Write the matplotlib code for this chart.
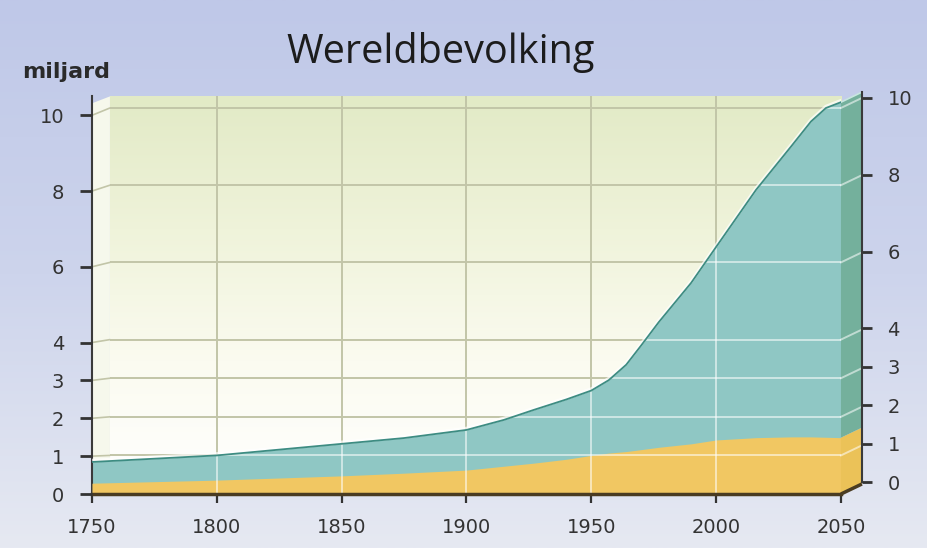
#!/usr/bin/env python

"""
Wereldbevolking, pseudo-3D area chart (1750-2050)
"""

import numpy as np
import matplotlib
matplotlib.use('Agg')
import matplotlib.pyplot as plt
import matplotlib.transforms as mtransforms
from matplotlib.colors import LinearSegmentedColormap
from matplotlib.patches import Polygon, ConnectionPatch

# values (miljard)
years = [1750, 1800, 1850, 1875, 1900, 1915, 1927, 1940, 1950, 1957,
         1964, 1970, 1977, 1990, 2000, 2016, 2030, 2038, 2044, 2050]
total = [0.83, 1.0, 1.3, 1.45, 1.66, 1.92, 2.18, 2.45, 2.68, 2.95,
         3.35, 3.85, 4.45, 5.47, 6.4, 7.88, 9.0, 9.65, 10.0, 10.15]
part = [0.28, 0.36, 0.47, 0.54, 0.62, 0.72, 0.80, 0.90, 1.0, 1.06,
        1.1, 1.15, 1.21, 1.3, 1.4, 1.46, 1.48, 1.48, 1.47, 1.46]

xticks = [1750, 1800, 1850, 1900, 1950, 2000, 2050]
yticks = [0, 1, 2, 3, 4, 6, 8, 10]
title = 'Wereldbevolking'
unit = 'miljard'

# depth of the fake 3D box, in data units of the main axes
DX_L = 7.2
DX = 8.4
DY = 0.26

TEAL = '#8fc7c4'
TEAL_SIDE = '#74b09c'
TEAL_EDGE = '#3d8c82'
YELLOW = '#f1c762'
YELLOW_SIDE = '#ebc258'
FLOOR = '#4a3c22'
GRID = '#c2c5a8'
TXT = '#333333'

fig = plt.figure(figsize=(9.28, 5.48), dpi=100)

# background
bg = fig.add_axes([0, 0, 1, 1], zorder=-10)
bg.axis('off')
bg_cmap = LinearSegmentedColormap.from_list('bg', ['#bfc8e8', '#cdd4ec', '#e6e9f2'])
bg.imshow(np.linspace(0, 1, 256).reshape(-1, 1), cmap=bg_cmap, aspect='auto',
          extent=[0, 1, 0, 1], origin='upper')
bg.set_xlim(0, 1)
bg.set_ylim(0, 1)

ax = fig.add_axes([0.0991, 0.0985, 0.8071, 0.7256])
ax.patch.set_visible(False)

# back wall
wall_cmap = LinearSegmentedColormap.from_list('wall', ['#ffffff', '#fbfbf0', '#eff3da', '#e2eac6'])
ax.imshow(np.linspace(0, 1, 256).reshape(-1, 1), cmap=wall_cmap, aspect='auto',
          extent=[1750 + DX_L, 2050, 0, 10.3], origin='lower', zorder=0)
# left side wall
ax.add_patch(Polygon([(1750, 0), (1750, 10.12), (1750 + DX_L, 10.3), (1750 + DX_L, 0)],
                     closed=True, fc='#f6f8ec', ec='none', zorder=0.5))

ax.set_xlim(1750, 2050)
ax.set_ylim(0, 10.3)

grid_y = [v for v in yticks if v > 0]
grid_x = xticks[1:-1]
ax.hlines(grid_y, 1750 + DX_L, 2050, color=GRID, lw=1.4, zorder=1)
ax.vlines(grid_x, 0, 10.3, color=GRID, lw=1.4, zorder=1)

# areas
teal = ax.fill_between(years, 0, total, color=TEAL, lw=0, zorder=2)
ax.fill_between(years, 0, part, color=YELLOW, lw=0, zorder=3)

# light grid over the areas
clip = teal.get_paths()[0]
hl = ax.hlines(grid_y, 1750, 2050, color='white', alpha=0.55, lw=1.4, zorder=4)
vl = ax.vlines(grid_x, 0, 10.3, color='white', alpha=0.55, lw=1.4, zorder=4)
hl.set_clip_path(clip, ax.transData)
vl.set_clip_path(clip, ax.transData)

# top edge of the total
glow = mtransforms.offset_copy(ax.transData, fig=fig, x=0, y=1.5, units='dots')
ax.plot(years, total, color='white', lw=2.5, alpha=0.7, transform=glow, zorder=4.5)
ax.plot(years, total, color=TEAL_EDGE, lw=1.3, zorder=5)

# right side faces
ax.add_patch(Polygon([(2050, 0), (2050, part[-1]), (2050 + DX, part[-1] + DY), (2050 + DX, DY)],
                     closed=True, fc=YELLOW_SIDE, ec='none', zorder=3, clip_on=False))
ax.add_patch(Polygon([(2050, part[-1]), (2050, total[-1]), (2050 + DX, total[-1] + DY),
                      (2050 + DX, part[-1] + DY)],
                     closed=True, fc=TEAL_SIDE, ec='none', zorder=3, clip_on=False))
for v in grid_y:
    if v < total[-1]:
        ax.plot([2050, 2050 + DX], [v, v + DY], color='white', alpha=0.55, lw=1.4,
                clip_on=False, zorder=4)
ax.plot([2050, 2050 + DX], [total[-1], total[-1] + DY], color='#c8e6e0', lw=1.2,
        clip_on=False, zorder=4)
ax.plot([2050, 2050 + DX], [0, DY], color=FLOOR, lw=2.5, clip_on=False, zorder=6,
        solid_capstyle='butt')

# spines / x axis
for s in ['top', 'right']:
    ax.spines[s].set_visible(False)
ax.spines['bottom'].set_color(FLOOR)
ax.spines['bottom'].set_linewidth(2.5)
ax.spines['bottom'].set_zorder(6)
ax.spines['left'].set_color('#3a3a3a')
ax.spines['left'].set_linewidth(1.5)
ax.set_xticks(xticks)
ax.tick_params(axis='x', direction='out', length=6.5, width=1.6, color=TXT,
               labelsize=14, labelcolor=TXT, pad=11)

# left value axis (front)
ax_l = ax.twinx()
ax_l.set_ylim(0.05, 10.5)
for s in ax_l.spines.values():
    s.set_visible(False)
ax_l.yaxis.tick_left()
ax_l.set_yticks(yticks)
ax_l.tick_params(axis='y', which='both', left=True, right=False, direction='out',
                 length=9, width=2.0, color='#333333',
                 labelsize=14, labelcolor=TXT, pad=11)

# slanted ticks on the side wall
for v in grid_y:
    con = ConnectionPatch(xyA=(0, v), coordsA=ax_l.get_yaxis_transform(),
                          xyB=(1750 + DX_L, v), coordsB=ax.transData,
                          color=GRID, lw=1.2, zorder=1)
    ax.add_artist(con)

# right value axis (back)
ax_r = ax.twinx()
ax_r.set_ylim(-0.31, 10.04)
for s in ['top', 'left', 'bottom']:
    ax_r.spines[s].set_visible(False)
ax_r.spines['right'].set_position(('outward', 15))
ax_r.spines['right'].set_bounds(0, 10.15)
ax_r.spines['right'].set_color('#3a3a3a')
ax_r.spines['right'].set_linewidth(1.5)
ax_r.set_yticks(yticks)
ax_r.tick_params(axis='y', direction='out', length=7.5, width=2.0, color='#333333',
                 labelsize=14, labelcolor=TXT, pad=11)

# twinx turns the main axes' own y ticks back on, hide them after
ax.tick_params(axis='y', left=False, right=False, labelleft=False, labelright=False)

fig.text(22 / 928, 1 - 78 / 548, unit, ha='left', va='baseline', fontsize=16,
         fontweight='bold', color='#2a2a2a')
fig.text(441 / 928, 1 - 63 / 548, title, ha='center', va='baseline', fontsize=28.5,
         family='Open Sans', color='#1c1c1c')

fig.savefig('out.png', dpi=100)
